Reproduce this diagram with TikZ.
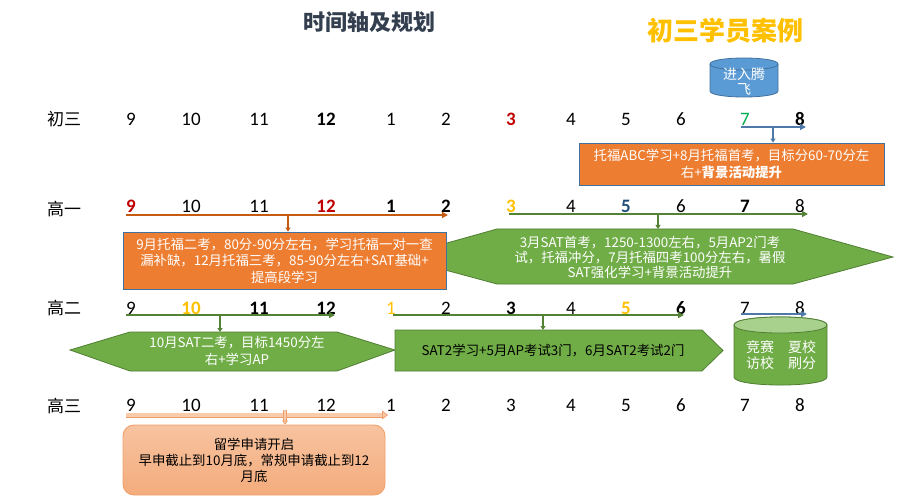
\documentclass[tikz,border=0pt]{standalone}
\usepackage{fontspec}
\setmainfont{Noto Sans CJK SC}
\newfontfamily\numfont{Carlito}
\usetikzlibrary{arrows.meta}
\definecolor{cRed}{HTML}{C00000}
\definecolor{cGold}{HTML}{FFC000}
\definecolor{cGrn}{HTML}{00B050}
\definecolor{cDblue}{HTML}{1F4E79}
\definecolor{cOrange}{HTML}{ED7D31}
\definecolor{cOrangeLine}{HTML}{C55A11}
\definecolor{cBoxBorder}{HTML}{41719C}
\definecolor{cGreen}{HTML}{70AD47}
\definecolor{cGreenLine}{HTML}{548235}
\definecolor{cGreenBorder}{HTML}{507E32}
\definecolor{cGreenTop}{HTML}{A9D18E}
\definecolor{cBlue}{HTML}{5B9BD5}
\definecolor{cBlueArrow}{HTML}{4E79A7}
\definecolor{cSalmonFill}{HTML}{F8CBAD}
\definecolor{cSalmonLine}{HTML}{F19F6A}
\definecolor{cTitle}{HTML}{333F4F}
\newcommand\numsize{\fontsize{19}{19}\selectfont}
\newcommand\boxsize{\fontsize{13.4}{16.5}\selectfont}
\begin{document}
\begin{tikzpicture}[x=1pt,y=-1pt,
  num/.style={font=\numfont\numsize, anchor=base, inner sep=0pt},
  nm/.style={},
  bd/.style={font=\numfont\bfseries\numsize},
  bdred/.style={font=\numfont\bfseries\numsize, text=cRed},
  bdgold/.style={font=\numfont\bfseries\numsize, text=cGold},
  bdblue/.style={font=\numfont\bfseries\numsize, text=cDblue},
  grn/.style={text=cGrn},
  gold/.style={text=cGold},
  rowlabel/.style={font=\fontsize{17}{17}\selectfont, anchor=base, inner sep=0pt},
  boxtext/.style={font=\boxsize, align=center, inner sep=0pt},
  obox/.style={draw=cBoxBorder, fill=cOrange, line width=0.8pt, text=white, align=center, font=\boxsize, inner sep=0pt},
  tlarrow/.style={line width=2.4pt, -{Triangle[length=6pt,width=6pt]}},
  downarrow/.style={line width=1.6pt, -{Triangle[length=4pt,width=5pt]}},
]
\useasboundingbox (0,0) rectangle (898,500);

% titles
\node[font=\bfseries\fontsize{22}{22}\selectfont, text=cTitle] (title) at (369,22) {时间轴及规划};
\node[font=\bfseries\fontsize{26}{26}\selectfont, text=cGold] (case) at (725,31) {初三学员案例};

% row labels
\node[rowlabel] (l0) at (64,126) {初三};
\node[rowlabel] (l1) at (64,215) {高一};
\node[rowlabel] (l2) at (64,314) {高二};
\node[rowlabel] (l3) at (64,412) {高三};

\def\xs{{131,191,259,326,391,446,511,571,626,681,745,800}}
\foreach \t/\s [count=\i from 0] in {9/nm,10/nm,11/nm,12/bd,1/nm,2/nm,3/bdred,4/nm,5/nm,6/nm,7/grn,8/bd}{
  \pgfmathsetmacro\xx{\xs[\i]}
  \node[num,\s] (a\i) at (\xx,126) {\t};
}
\foreach \t/\s [count=\i from 0] in {9/bdred,10/nm,11/nm,12/bdred,1/bd,2/bd,3/bdgold,4/nm,5/bdblue,6/nm,7/bd,8/nm}{
  \pgfmathsetmacro\xx{\xs[\i]}
  \node[num,\s] (b\i) at (\xx,213) {\t};
}
\foreach \t/\s [count=\i from 0] in {9/nm,10/bdgold,11/bd,12/bd,1/gold,2/nm,3/bd,4/nm,5/bdgold,6/bd,7/nm,8/nm}{
  \pgfmathsetmacro\xx{\xs[\i]}
  \node[num,\s] (c\i) at (\xx,314) {\t};
}
\foreach \t/\s [count=\i from 0] in {9/nm,10/nm,11/nm,12/nm,1/nm,2/nm,3/nm,4/nm,5/nm,6/nm,7/nm,8/nm}{
  \pgfmathsetmacro\xx{\xs[\i]}
  \node[num,\s] (d\i) at (\xx,411) {\t};
}

% ---------- 初三 ----------
% cylinder 进入腾飞
\filldraw[fill=cBlue, draw=cBoxBorder, line width=0.8pt]
  (710,64) -- (710,91) .. controls (710,99) and (778,99) .. (778,91) -- (778,64)
  .. controls (778,56) and (710,56) .. (710,64) -- cycle;
\draw[cBoxBorder, line width=0.8pt] (710,64) .. controls (710,72) and (778,72) .. (778,64);
\node[boxtext, text=white, font=\fontsize{14}{15}\selectfont] (join) at (744,81.5) {进入腾\\飞};

\coordinate (p0s) at (741,127);
\coordinate (p0e) at (806,127);
\coordinate (p0d) at (773,127);
\draw[tlarrow, cBlueArrow, line width=2.6pt] (p0s) -- (p0e);
\node[obox, minimum width=305pt, minimum height=42pt] (box0) at (731.5,164)
  {托福ABC学习+8月托福首考，目标分60-70分左\\右+\textbf{背景活动提升}};
\draw[downarrow, cBlueArrow] (p0d) -- (p0d |- box0.north);

% ---------- 高一 ----------
\filldraw[fill=cGreen, draw=cGreenBorder, line width=0.8pt]
  (397,257) -- (497,229) -- (793,229) -- (893,257) -- (793,284) -- (497,284) -- cycle;
\node[boxtext, text=white, font=\fontsize{13.4}{15}\selectfont] (hex1) at (650,257)
  {3月SAT首考，1250-1300左右，5月AP2门考\\试，托福冲分，7月托福四考100分左右，暑假\\SAT强化学习+背景活动提升};
\coordinate (hex1top) at (658,229);

\coordinate (p1s) at (126,215);
\coordinate (p1e) at (448,215);
\coordinate (p1d) at (288,215);
\draw[tlarrow, cOrangeLine] (p1s) -- (p1e);
\node[obox, minimum width=323pt, minimum height=57pt] (box1) at (284.5,260.5)
  {9月托福二考，80分-90分左右，学习托福一对一查\\漏补缺，12月托福三考，85-90分左右+SAT基础+\\提高段学习};
\draw[downarrow, cOrangeLine] (p1d) -- (p1d |- box1.north);

\coordinate (q1s) at (509,214);
\coordinate (q1e) at (808,214);
\coordinate (q1d) at (658,214);
\draw[tlarrow, cGreenLine] (q1s) -- (q1e);
\draw[downarrow, cGreenLine] (q1d) -- (hex1top);

% ---------- 高二 ----------
\filldraw[fill=cGreen, draw=cGreenBorder, line width=0.8pt]
  (70,350) -- (130,332) -- (337,332) -- (395,350) -- (337,371) -- (130,371) -- cycle;
\node[boxtext, text=white, font=\fontsize{13.4}{16.5}\selectfont] (hex2) at (237,351)
  {10月SAT二考，目标1450分左\\右+学习AP};
\coordinate (hex2top) at (220,332);

\coordinate (p2s) at (126,315);
\coordinate (p2e) at (335,315);
\coordinate (p2d) at (220,315);
\draw[tlarrow, cGreenLine] (p2s) -- (p2e);
\draw[downarrow, cGreenLine] (p2d) -- (hex2top);

\filldraw[fill=cGreen, draw=cGreenBorder, line width=0.8pt]
  (395,330) -- (702,330) -- (723,350.5) -- (702,371) -- (395,371) -- cycle;
\node[boxtext, text=black, font=\fontsize{13.4}{16}\selectfont] (pent) at (553,350.5)
  {SAT2学习+5月AP考试3门，6月SAT2考试2门};
\coordinate (penttop) at (543,330);

\coordinate (q2s) at (393,315);
\coordinate (q2e) at (684,315);
\coordinate (q2d) at (543,315);
\draw[tlarrow, cGreenLine] (q2s) -- (q2e);
\draw[downarrow, cGreenLine] (q2d) -- (penttop);

% cylinder 竞赛
\filldraw[fill=cGreen, draw=cGreenBorder, line width=0.8pt]
  (734,325) -- (734,377) .. controls (734,387.7) and (827,387.7) .. (827,377) -- (827,325)
  .. controls (827,314.3) and (734,314.3) .. (734,325) -- cycle;
\filldraw[fill=cGreenTop, draw=cGreenBorder, line width=0.8pt]
  (734,325) .. controls (734,335.7) and (827,335.7) .. (827,325)
  .. controls (827,314.3) and (734,314.3) .. (734,325) -- cycle;
\node[boxtext, text=white, font=\fontsize{14}{15.5}\selectfont] (cyl2) at (781,355)
  {竞赛\quad 夏校\\访校\quad 刷分};

\coordinate (r2s) at (741,314);
\coordinate (r2e) at (807,314);
\draw[tlarrow, cBlueArrow, line width=2.6pt] (r2s) -- (r2e);

% ---------- 高三 ----------
\node[draw=cSalmonLine, line width=0.9pt, rounded corners=11pt,
      top color=cSalmonFill!90!cOrange, bottom color=cSalmonFill!60!cOrange,
      minimum width=262pt, minimum height=70pt, boxtext, text=black,
      font=\fontsize{13.4}{16}\selectfont] (box3) at (254,460)
  {留学申请开启\\早申截止到10月底，常规申请截止到12\\月底};

\coordinate (p3s) at (126,415);
\coordinate (p3e) at (388,415);
\coordinate (p3d) at (285,410);
\draw[draw=cSalmonLine, double=cSalmonFill, double distance=3.4pt, line width=0.8pt,
      -{Triangle[length=6pt,width=9pt,fill=cSalmonFill]}] (p3s) -- (p3e);
\draw[draw=cSalmonLine, double=cSalmonFill, double distance=1.8pt, line width=0.7pt,
      -{Triangle[length=4pt,width=6pt,fill=cSalmonFill]}] (p3d) -- (p3d |- box3.north);
\end{tikzpicture}
\end{document}
